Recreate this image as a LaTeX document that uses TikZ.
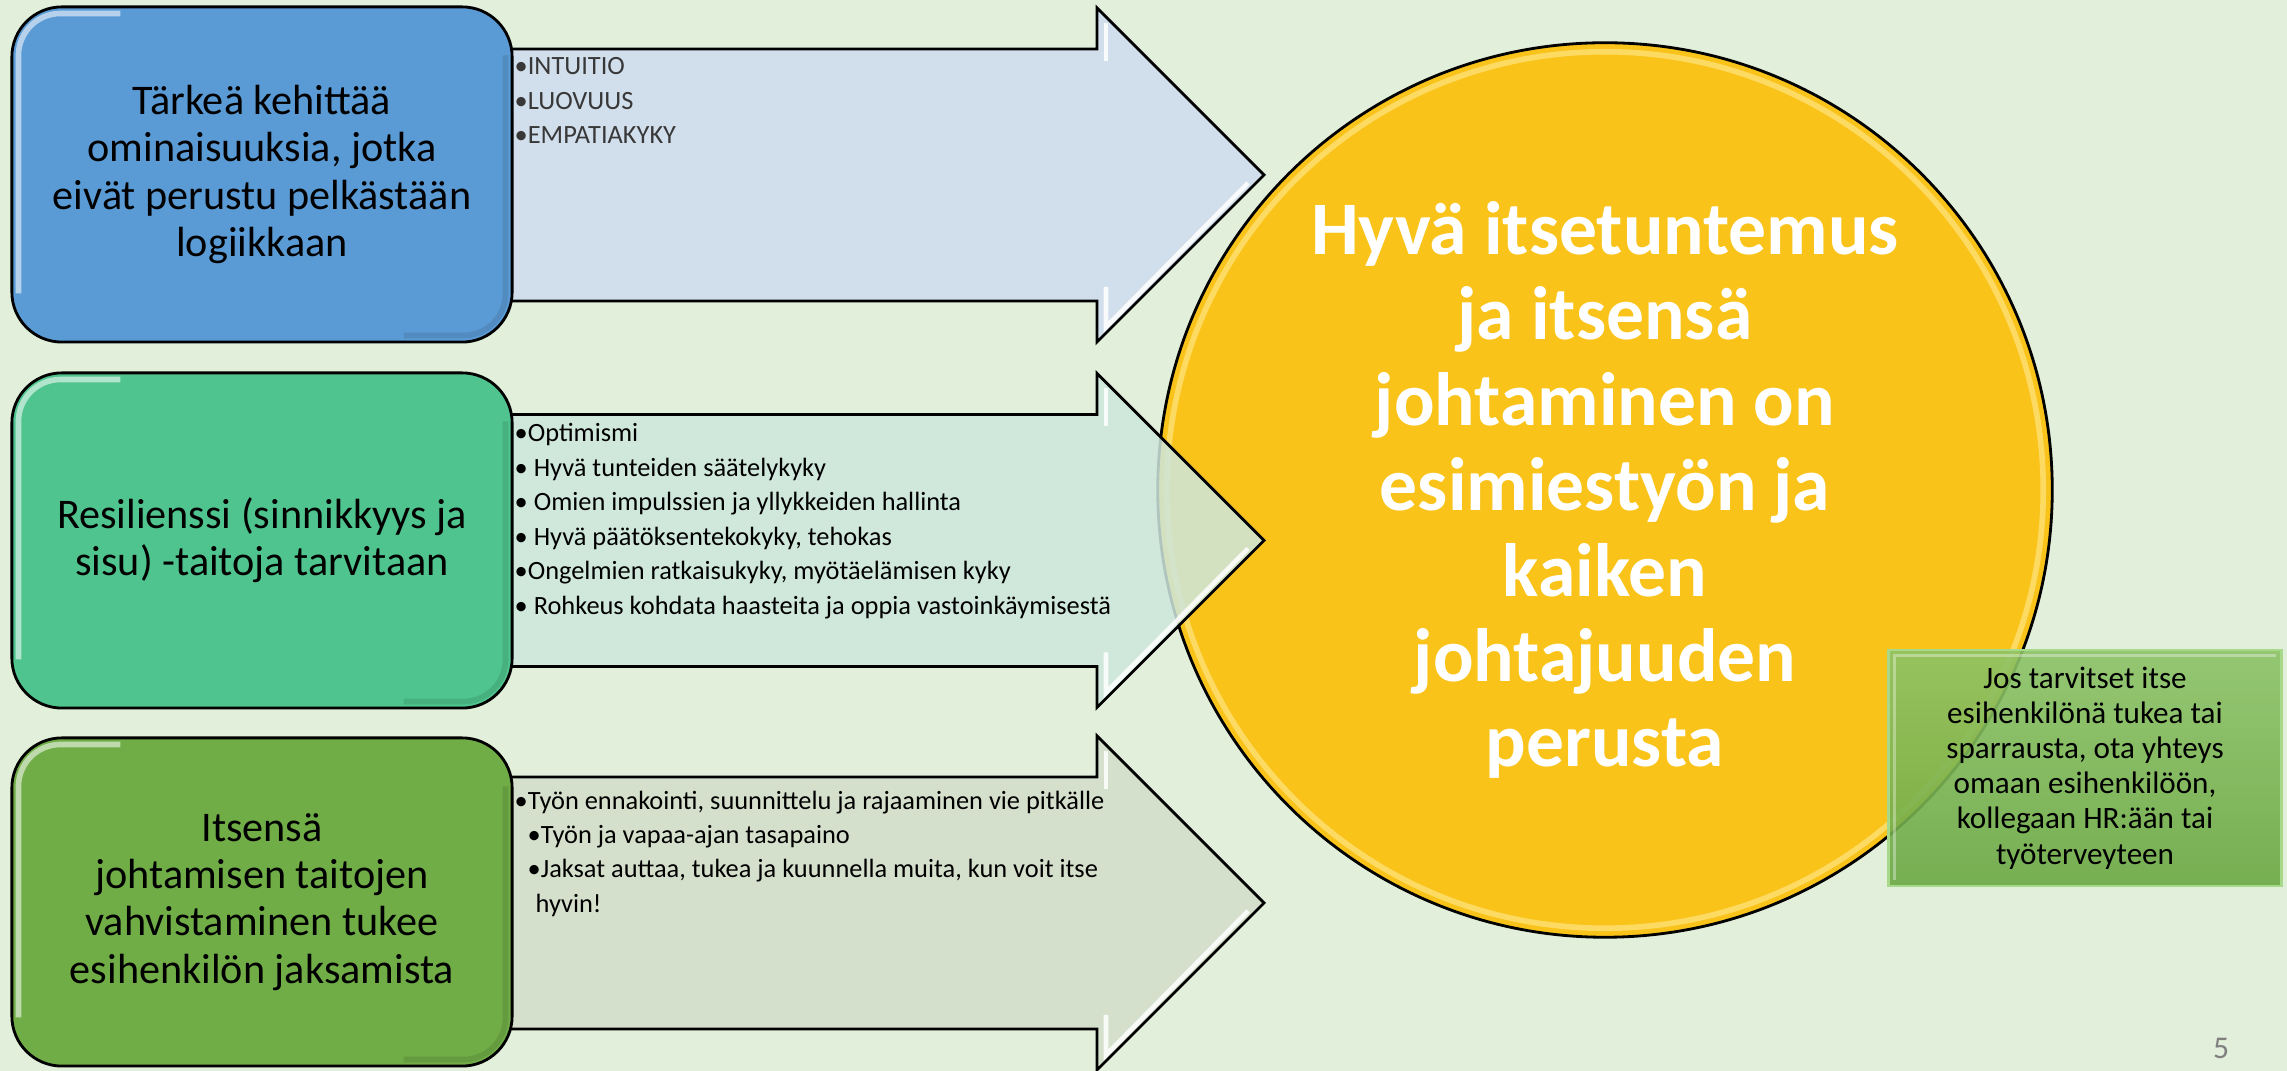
\documentclass[tikz,border=0pt]{standalone}
\usepackage{fontspec}
\setmainfont{Carlito}
\usetikzlibrary{calc}

\definecolor{pagebg}{HTML}{E2EFDA}
\definecolor{cardblue}{HTML}{5B9BD5}
\definecolor{cardteal}{HTML}{50C48E}
\definecolor{cardgreen}{HTML}{70AD47}
\definecolor{arrowblue}{HTML}{D1DEEB}
\definecolor{arrowteal}{HTML}{CEE6DD}
\definecolor{arrowgreen}{HTML}{D5E0CC}
\definecolor{coregold}{HTML}{F9C31A}
\definecolor{rimgold}{HTML}{FFE27A}
\definecolor{notetop}{HTML}{8DC367}
\definecolor{notebottom}{HTML}{6BA844}
\definecolor{noteedge}{HTML}{A8D88A}
\definecolor{listgray}{HTML}{383838}

% big block arrow: #1 = centre line (px from the top), #2 = fill options
\newcommand\bigarrow[2]{%
  \path[draw=black, line width=0.8pt, line join=miter, #2]
    (505,{#1-126}) -- (1097,{#1-126}) -- (1097,{#1-167}) -- (1264,#1)
    -- (1097,{#1+167}) -- (1097,{#1+126}) -- (505,{#1+126}) -- cycle;
  \draw[white, opacity=0.85, line width=1.3pt]
    (1106,{#1-152}) -- (1106,{#1-114});
  \draw[white, opacity=0.85, line width=1.3pt, line join=miter]
    (1106,{#1+112}) -- (1106,{#1+152}) -- (1248,{#1+8});
}

% glossy rim inside a rounded card
\newcommand\cardgloss[1]{%
  \draw[white, opacity=0.55, line width=1.6pt, rounded corners=0.42cm]
    ($(#1.south west)+(8,-50)$) -- ($(#1.north west)+(8,8)$) -- ($(#1.north west)+(110,8)$);
  \draw[black, opacity=0.1, line width=1.6pt, rounded corners=0.42cm]
    ($(#1.north east)+(-8,50)$) -- ($(#1.south east)+(-8,-8)$) -- ($(#1.south east)+(-110,-8)$);
}

\tikzset{
  card/.style={draw=black, line width=0.8pt, rounded corners=0.5cm,
    minimum width=5cm, align=center, inner sep=0pt,
    font=\fontsize{12}{13.4}\selectfont},
  bullets/.style={anchor=north west, align=left, inner sep=0pt,
    font=\fontsize{7.5}{9.8}\selectfont},
  core/.style={circle, draw=black, line width=0.8pt, fill=coregold,
    minimum size=8.94cm, inner sep=0pt},
  coretext/.style={align=center, text=white, inner sep=0pt,
    font=\fontsize{21.5}{24.3}\selectfont\bfseries},
  notebox/.style={draw=noteedge, line width=0.8pt, top color=notetop,
    bottom color=notebottom, fill opacity=0.9, text opacity=1,
    minimum width=3.92cm, minimum height=2.36cm, align=center,
    inner sep=0pt, font=\fontsize{8.85}{10}\selectfont},
}

\begin{document}
\begin{tikzpicture}[x=0.01cm, y=-0.01cm]
  \fill[pagebg] (0,0) rectangle (2287,1071);
  \useasboundingbox (0,0) rectangle (2287,1071);

  % top row
  \bigarrow{175}{fill=arrowblue}
  \node[card, fill=cardblue, minimum height=3.35cm] (c1) at (262,174.5)
    {Tärkeä kehittää\\ominaisuuksia, jotka\\eivät perustu pelkästään\\logiikkaan};
  \cardgloss{c1}
  \node[bullets, text=listgray] (l1) at (514,57)
    {•INTUITIO\\•LUOVUUS\\•EMPATIAKYKY};

  % bottom row
  \bigarrow{903}{fill=arrowgreen}
  \node[card, fill=cardgreen, minimum height=3.28cm] (c3) at (262,902)
    {Itsensä\\johtamisen taitojen\\vahvistaminen tukee\\esihenkilön jaksamista};
  \cardgloss{c3}
  \node[bullets] (l3) at (514,790)
    {•Työn ennakointi, suunnittelu ja rajaaminen vie pitkälle\\
     \hspace*{0.13cm}•Työn ja vapaa-ajan tasapaino\\
     \hspace*{0.13cm}•Jaksat auttaa, tukea ja kuunnella muita, kun voit itse\\
     \hspace*{0.21cm}hyvin!};

  % central statement
  \node[core] (hub) at (1605,490) {};
  \draw[rimgold, opacity=0.75, line width=1.6pt] (hub.center) circle[radius=4.38cm];
  \node[coretext] (hubtext) at (hub.center)
    {Hyvä itsetuntemus\\ja itsensä\\johtaminen on\\esimiestyön ja\\kaiken\\johtajuuden\\perusta};

  % middle row, laid over the circle
  \bigarrow{540.5}{fill=arrowteal, fill opacity=0.86}
  \node[card, fill=cardteal, minimum height=3.35cm] (c2) at (262,540.5)
    {Resilienssi (sinnikkyys ja\\sisu) -taitoja tarvitaan};
  \cardgloss{c2}
  \node[bullets] (l2) at (514,423)
    {•Optimismi\\
     • Hyvä tunteiden säätelykyky\\
     • Omien impulssien ja yllykkeiden hallinta\\
     • Hyvä päätöksentekokyky, tehokas\\
     •Ongelmien ratkaisukyky, myötäelämisen kyky\\
     • Rohkeus kohdata haasteita ja oppia vastoinkäymisestä};

  % support note
  \node[notebox] (note) at (2085,768)
    {Jos tarvitset itse\\esihenkilönä tukea tai\\sparrausta, ota yhteys\\omaan esihenkilöön,\\kollegaan HR:ään tai\\työterveyteen};
  \draw[white, opacity=0.35, line width=1pt]
    ($(note.south west)+(7,-7)$) -- ($(note.north west)+(7,7)$) -- ($(note.north east)+(-7,7)$);

  \node[text=gray, font=\fontsize{9}{11}\selectfont] (pageno) at (2221,1048) {5};
\end{tikzpicture}
\end{document}
